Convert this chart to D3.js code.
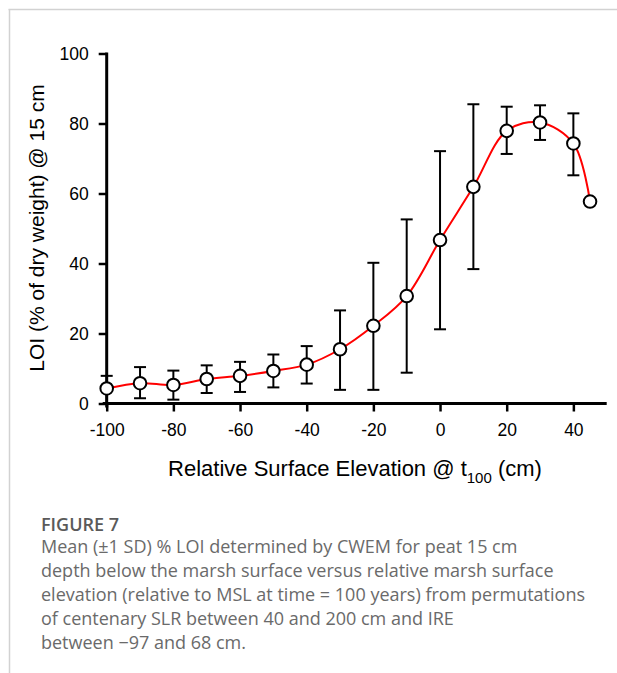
<!DOCTYPE html>
<html>
<head>
<meta charset="utf-8">
<script src="https://cdn.jsdelivr.net/npm/d3@7"></script>
<style>
  html, body { margin: 0; padding: 0; background: #fff; }
  svg { display: block; }
</style>
</head>
<body>
<svg id="chart" width="617" height="673"></svg>
<script>
// ---- data ----
const elevation = [-100, -90, -80, -70, -60, -50, -40, -30, -20, -10, 0, 10, 20, 30, 40, 45];
const meanLOI   = [4.3, 5.8, 5.3, 7.0, 7.9, 9.3, 11.1, 15.5, 22.2, 30.7, 46.7, 61.9, 77.9, 80.3, 74.3, 57.7];
const upperLOI  = [7.9, 10.4, 9.4, 10.9, 11.9, 14.0, 16.4, 26.6, 40.2, 52.6, 72.1, 85.5, 84.8, 85.2, 82.9, null];
const lowerLOI  = [0.0, 1.5, 1.1, 3.0, 3.3, 4.6, 5.7, 3.9, 3.9, 8.8, 21.2, 38.4, 71.3, 75.3, 65.2, null];
const xTicks = [-100, -80, -60, -40, -20, 0, 20, 40];
const yTicks = [0, 20, 40, 60, 80, 100];
const captionTitle = "FIGURE 7";
const captionLines = [
  "Mean (\u00B11 SD) % LOI determined by CWEM for peat 15 cm",
  "depth below the marsh surface versus relative marsh surface",
  "elevation (relative to MSL at time = 100 years) from permutations",
  "of centenary SLR between 40 and 200 cm and IRE",
  "between \u221297 and 68 cm."
];

const svg = d3.select("#chart");
const FONT = "'Liberation Sans', Arial, sans-serif";

// frame (top + left border)
svg.append("line").attr("x1", 8.5).attr("x2", 617).attr("y1", 9.5).attr("y2", 9.5)
  .attr("stroke", "#d2d2d2").attr("stroke-width", 1.5);
svg.append("line").attr("x1", 9.5).attr("x2", 9.5).attr("y1", 9).attr("y2", 673)
  .attr("stroke", "#d2d2d2").attr("stroke-width", 1.5);

const x = d3.scaleLinear().domain([-100, 50]).range([106.7, 606.7]);
const y = d3.scaleLinear().domain([0, 100]).range([403.5, 53.5]);

// axes
const yAxis = svg.append("g").attr("transform", `translate(${x(-100)},0)`)
  .call(d3.axisLeft(y).tickValues(yTicks).tickSize(8).tickSizeOuter(0).tickPadding(10));
const xAxis = svg.append("g").attr("transform", `translate(0,${y(0)})`)
  .call(d3.axisBottom(x).tickValues(xTicks).tickSize(8).tickSizeOuter(0).tickPadding(12)
    .tickFormat(d => d < 0 ? "-" + Math.abs(d) : d));

[yAxis, xAxis].forEach(g => {
  g.select(".domain").remove();
  g.selectAll(".tick line").attr("stroke", "#000").attr("stroke-width", 2.5);
  g.selectAll(".tick text").attr("fill", "#000").style("font-family", FONT).style("font-size", "17.5px");
});
// axis lines
svg.append("line").attr("x1", x(-100)).attr("x2", x(-100)).attr("y1", y(100) - 1).attr("y2", y(0) + 4)
  .attr("stroke", "#000").attr("stroke-width", 3);
svg.append("line").attr("x1", x(-100) - 4).attr("x2", x(50)).attr("y1", y(0)).attr("y2", y(0))
  .attr("stroke", "#000").attr("stroke-width", 3);

// data rows
const rows = elevation.map((e, i) => ({ x: e, m: meanLOI[i], hi: upperLOI[i], lo: lowerLOI[i] }));

// red smooth curve
const line = d3.line().x(d => x(d.x)).y(d => y(d.m)).curve(d3.curveCatmullRom.alpha(0.5));
svg.append("path").datum(rows).attr("d", line)
  .attr("fill", "none").attr("stroke", "#ff0000").attr("stroke-width", 2);

// error bars
const eb = svg.append("g").attr("stroke", "#000").attr("stroke-width", 2).attr("fill", "none");
const capW = 6;
rows.filter(d => d.hi != null).forEach(d => {
  eb.append("line").attr("x1", x(d.x)).attr("x2", x(d.x)).attr("y1", y(d.hi)).attr("y2", y(d.lo));
  eb.append("line").attr("x1", x(d.x) - capW).attr("x2", x(d.x) + capW).attr("y1", y(d.hi)).attr("y2", y(d.hi));
  if (d.lo > 0.5)
    eb.append("line").attr("x1", x(d.x) - capW).attr("x2", x(d.x) + capW).attr("y1", y(d.lo)).attr("y2", y(d.lo));
});

// markers
svg.append("g").selectAll("circle").data(rows).join("circle")
  .attr("cx", d => x(d.x)).attr("cy", d => y(d.m)).attr("r", 6.3)
  .attr("fill", "#fff").attr("stroke", "#000").attr("stroke-width", 2);

// y label
svg.append("text").attr("transform", `translate(44,228) rotate(-90)`)
  .attr("text-anchor", "middle").style("font-family", FONT).style("font-size", "21px").attr("fill", "#000")
  .text("LOI (% of dry weight) @ 15 cm");

// x label
const xl = svg.append("text").attr("x", 355).attr("y", 476).attr("text-anchor", "middle")
  .style("font-family", FONT).style("font-size", "22px").attr("fill", "#000");
xl.append("tspan").text("Relative Surface Elevation @ t");
xl.append("tspan").attr("dy", 7).style("font-size", "15px").text("100");
xl.append("tspan").attr("dy", -7).text(" (cm)");

// caption
const CAP = "'Open Sans', 'Noto Sans', sans-serif";
svg.append("text").attr("x", 41).attr("y", 531).style("font-family", CAP).style("font-size", "18px")
  .style("font-weight", 600).attr("fill", "#5a5a5a").text(captionTitle);
svg.append("g").selectAll("text").data(captionLines).join("text")
  .attr("x", 41).attr("y", (d, i) => 553 + i * 24)
  .style("font-family", CAP).style("font-size", "18px").attr("fill", "#6a6a6a")
  .text(d => d);
</script>
</body>
</html>
